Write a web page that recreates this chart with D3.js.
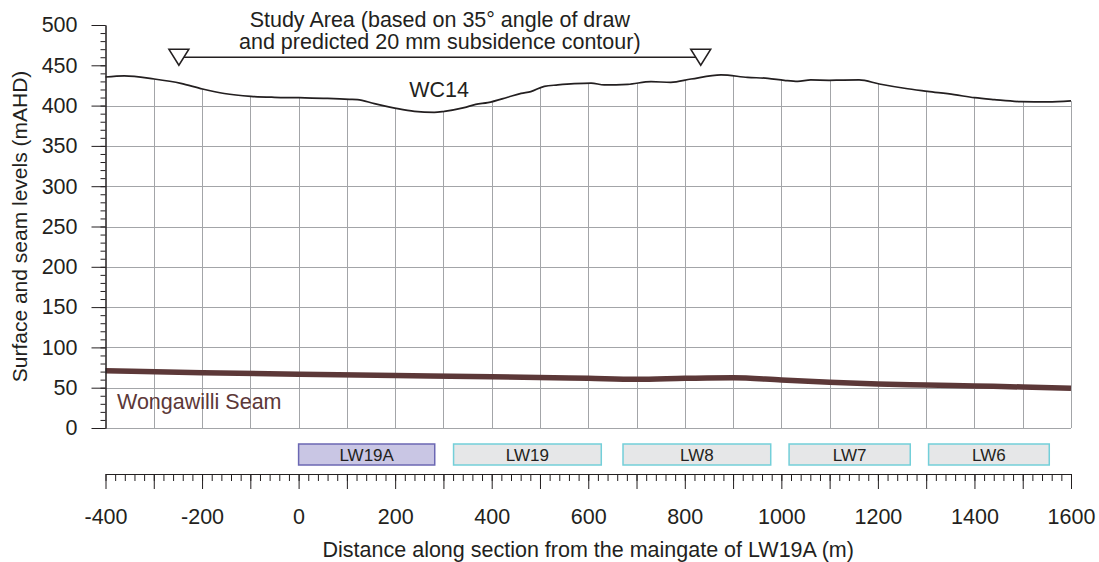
<!DOCTYPE html>
<html>
<head>
<meta charset="utf-8">
<script src="https://cdn.jsdelivr.net/npm/d3@7"></script>
<style>
  body { margin: 0; background: #fff; }
  svg { display: block; }
  text { font-family: Arial, "Liberation Sans", Helvetica, sans-serif; fill: #231f20; }
</style>
</head>
<body>
<svg id="chart" width="1099" height="562"></svg>
<script>
// Surface profile along the WC14 section (distance m, level mAHD)
const surfaceDist  = [-400, -361, -299, -244, -199, -154, -99, -50, 1, 60, 105, 122, 157, 202, 240, 281, 302, 343, 367, 392, 433, 461, 481, 509, 537, 571, 606, 633, 682, 730, 771, 813, 875, 930, 972, 1006, 1034, 1061, 1099, 1123, 1161, 1203, 1255, 1303, 1358, 1400, 1441, 1496, 1552, 1600];
const surfaceLevel = [435.5, 437, 433, 427.6, 420.6, 415, 411.5, 410.3, 409.8, 409, 407.8, 407.4, 402.4, 396.6, 392.9, 391.6, 392.9, 397.4, 401.5, 403.6, 410.3, 415.2, 417.3, 423.9, 425.6, 427.2, 428, 425.6, 426.4, 429.7, 428.9, 433, 438, 435.1, 433.8, 431.4, 430.1, 431.8, 431.4, 431.6, 431.8, 426.8, 421.5, 417.7, 413.6, 409.8, 407.4, 404.9, 404.5, 405.8];

// Wongawilli Seam floor level along the same section
const seamDist  = [-400, -200, 0, 200, 400, 600, 700, 800, 900, 1000, 1100, 1200, 1300, 1400, 1500, 1600];
const seamLevel = [71, 68.6, 66.6, 65, 63.7, 61.6, 60.4, 61.6, 62.4, 59.5, 56.7, 54.6, 53.3, 52.1, 50.9, 49.2];

// Longwall panels crossed by the section
const panelNames = ["LW19A", "LW19", "LW8", "LW7", "LW6"];
const panelStart = [0, 321, 672, 1016, 1305];
const panelEnd   = [282, 627, 978, 1267, 1555];

// Study area extent and its level on the section
const studyStart = -248, studyEnd = 833, studyLevel = 460;

// Axis ticks
const xTicks = d3.range(-400, 1601, 100);
const xMinorTicks = d3.range(-400, 1601, 20);
const yTicks = d3.range(0, 501, 50);
const yMinorTicks = d3.range(0, 501, 10);
const gridY = d3.range(0, 451, 50);
const gridX = d3.range(-300, 1601, 100);

const surface = surfaceDist.map((d, i) => [d, surfaceLevel[i]]);
const seam = seamDist.map((d, i) => [d, seamLevel[i]]);

const svg = d3.select("#chart");
const x = d3.scaleLinear().domain([-400, 1600]).range([105.5, 1071]);
const y = d3.scaleLinear().domain([0, 500]).range([428, 25]);
const ink = "#231f20";
const font = "Arial, 'Liberation Sans', sans-serif";

// Grid is only drawn beneath the ground surface
const clipArea = d3.area()
  .x((d, i) => x(d[0]) + (i === 0 ? -2 : i === surface.length - 1 ? 2 : 0))
  .y0(y(0) + 2)
  .y1(d => y(d[1]))
  .curve(d3.curveMonotoneX);
svg.append("clipPath").attr("id", "under-ground")
  .append("path").attr("d", clipArea(surface));

const grid = svg.append("g").attr("clip-path", "url(#under-ground)")
  .attr("stroke", "#a3a5a8").attr("stroke-width", 1);
grid.selectAll("line.h").data(gridY).join("line")
  .attr("x1", x(-400)).attr("x2", x(1600))
  .attr("y1", d => Math.round(y(d)) + 0.5).attr("y2", d => Math.round(y(d)) + 0.5);
grid.selectAll("line.v").data(gridX).join("line")
  .attr("y1", y(0)).attr("y2", y(500))
  .attr("x1", d => Math.round(x(d)) + 0.5).attr("x2", d => Math.round(x(d)) + 0.5);

// Seam
const line = d3.line().x(d => x(d[0])).y(d => y(d[1])).curve(d3.curveMonotoneX);
svg.append("path").attr("d", line(seam))
  .attr("fill", "none").attr("stroke", "#5c3838").attr("stroke-width", 5.5);

// Ground surface
svg.append("path").attr("d", line(surface))
  .attr("fill", "none").attr("stroke", ink).attr("stroke-width", 1.7);

// Y axis
const yAxisG = svg.append("g").attr("transform", `translate(${x(-400)},0)`);
yAxisG.call(d3.axisLeft(y).tickValues(yMinorTicks).tickSize(5).tickSizeOuter(0).tickFormat(""));
yAxisG.append("g").call(d3.axisLeft(y).tickValues(yTicks).tickSize(14).tickSizeOuter(0)
  .tickPadding(14).tickFormat(d => String(d)));
yAxisG.selectAll("path,line").attr("stroke", ink);
yAxisG.selectAll("text").attr("font-size", 21.5).attr("fill", ink).attr("font-family", font);

// X axis
const xAxisG = svg.append("g").attr("transform", "translate(0,474)");
xAxisG.call(d3.axisBottom(x).tickValues(xMinorTicks).tickSize(7).tickSizeOuter(0).tickFormat(""));
xAxisG.append("g").call(d3.axisBottom(x).tickValues(xTicks).tickSize(15).tickSizeOuter(0)
  .tickPadding(20).tickFormat(d => d % 200 === 0 ? String(d) : ""));
xAxisG.selectAll("path,line").attr("stroke", ink);
xAxisG.selectAll("text").attr("font-size", 21.5).attr("fill", ink).attr("font-family", font);

// Panels
const panels = svg.append("g").selectAll("g").data(panelNames).join("g");
panels.append("rect")
  .attr("x", (d, i) => x(panelStart[i]))
  .attr("width", (d, i) => x(panelEnd[i]) - x(panelStart[i]))
  .attr("y", 444).attr("height", 21)
  .attr("fill", (d, i) => i === 0 ? "#c9c6e4" : "#e6e7e8")
  .attr("stroke", (d, i) => i === 0 ? "#6b67b3" : "#73cfd9")
  .attr("stroke-width", 1.5);
panels.append("text")
  .attr("x", (d, i) => (x(panelStart[i]) + x(panelEnd[i])) / 2)
  .attr("y", 461).attr("text-anchor", "middle").attr("font-size", 17)
  .text(d => d);

// Study area marker
const ly = y(studyLevel);
svg.append("line").attr("x1", x(studyStart)).attr("x2", x(studyEnd))
  .attr("y1", ly).attr("y2", ly).attr("stroke", ink).attr("stroke-width", 1.5);
svg.selectAll("path.tri").data([studyStart, studyEnd]).join("path")
  .attr("d", d => `M${x(d) - 10},${ly - 8}L${x(d) + 10},${ly - 8}L${x(d)},${ly + 8}Z`)
  .attr("fill", "#fff").attr("stroke", ink).attr("stroke-width", 1.5);
const studyMid = x((studyStart + studyEnd) / 2);
svg.append("text").attr("x", studyMid).attr("y", 27).attr("text-anchor", "middle")
  .attr("font-size", 21.5).text("Study Area (based on 35° angle of draw");
svg.append("text").attr("x", studyMid).attr("y", 49).attr("text-anchor", "middle")
  .attr("font-size", 21.5).text("and predicted 20 mm subsidence contour)");

// Line labels
svg.append("text").attr("x", 439).attr("y", 97).attr("text-anchor", "middle")
  .attr("font-size", 21.5).text("WC14");
svg.append("text").attr("x", 117).attr("y", 409).attr("font-size", 21.5)
  .style("fill", "#5c3838").text("Wongawilli Seam");

// Axis titles
svg.append("text").attr("x", (x(-400) + x(1600)) / 2).attr("y", 557)
  .attr("text-anchor", "middle").attr("font-size", 21.5)
  .text("Distance along section from the maingate of LW19A (m)");
svg.append("text").attr("transform", `translate(27,${(y(0) + y(500)) / 2}) rotate(-90)`)
  .attr("text-anchor", "middle").attr("font-size", 21)
  .text("Surface and seam levels (mAHD)");
</script>
</body>
</html>
